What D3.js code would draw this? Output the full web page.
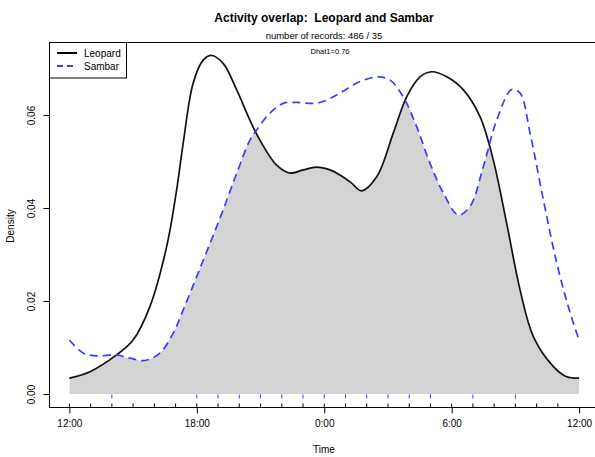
<!DOCTYPE html>
<html>
<head>
<meta charset="utf-8">
<script src="https://cdn.jsdelivr.net/npm/d3@7"></script>
<style>
  body { margin: 0; background: #fff; }
  text { font-family: "Liberation Sans", Arial, sans-serif; white-space: pre; }
</style>
</head>
<body>
<script>
// hours after 12:00 (noon), density values
var leopardHours = [0, 0.97, 2.22, 3.0, 3.79, 4.58, 5.05, 5.36, 5.83, 6.30, 6.70, 7.24, 7.88, 8.50, 8.97, 9.76, 10.39, 11.01, 11.64, 12.27, 12.74, 13.25, 13.76, 14.47, 15.25, 15.88, 16.51, 17.06, 17.77, 18.55, 19.34, 19.96, 20.59, 21.22, 21.85, 22.79, 23.42, 24];
var leopardDensity = [0.0034, 0.0048, 0.0084, 0.0116, 0.0188, 0.0317, 0.0439, 0.0540, 0.0669, 0.0718, 0.0728, 0.0711, 0.0654, 0.0589, 0.0546, 0.0492, 0.0475, 0.0482, 0.0488, 0.0482, 0.0471, 0.0455, 0.0437, 0.0467, 0.0561, 0.0639, 0.0682, 0.0693, 0.0682, 0.0654, 0.0596, 0.0503, 0.0367, 0.0224, 0.0123, 0.0059, 0.0037, 0.0034];

var sambarHours = [0, 0.65, 1.28, 2.22, 2.85, 3.56, 4.26, 4.89, 5.36, 5.99, 6.62, 7.24, 7.88, 8.50, 8.82, 9.44, 10.07, 10.70, 11.48, 11.95, 12.74, 13.68, 14.55, 15.10, 15.72, 16.35, 16.98, 17.61, 18.31, 18.86, 19.49, 20.12, 20.83, 21.22, 21.69, 22.32, 22.95, 23.58, 24];
var sambarDensity = [0.0116, 0.0088, 0.0082, 0.0084, 0.0077, 0.0072, 0.0088, 0.0131, 0.0181, 0.0252, 0.0324, 0.0396, 0.0475, 0.0546, 0.0568, 0.0604, 0.0625, 0.0627, 0.0625, 0.0629, 0.0647, 0.0672, 0.0682, 0.0675, 0.0639, 0.0575, 0.0496, 0.0432, 0.0385, 0.0403, 0.0489, 0.0589, 0.0655, 0.0647, 0.0561, 0.0417, 0.0281, 0.0174, 0.0116];

// rug: clock hours of records
var leopardRug = [12, 13, 14, 15, 16, 17, 18, 19, 20, 21, 22, 23, 0, 1, 2, 3, 4, 5, 6, 7, 8, 9, 10, 11];
var sambarRug = [14, 18, 19, 20, 21, 22, 23, 0, 1, 2, 3, 4, 5, 7, 9];

var xTicks = [0, 6, 12, 18, 24];
var xTickLabels = ["12:00", "18:00", "0:00", "6:00", "12:00"];
var yTicks = [0, 0.02, 0.04, 0.06];

var speciesNames = ["Leopard", "Sambar"];
var titleText = "Activity overlap:  Leopard and Sambar";
var subText = "number of records: 486 / 35";
var dhatText = "Dhat1=0.76";

var W = 595, H = 457;
var svg = d3.select("body").append("svg").attr("width", W).attr("height", H);

var x = d3.scaleLinear().domain([-0.96, 24.96]).range([49, 599.5]);
var y = d3.scaleLinear().domain([0, 0.06]).range([394, 115]);

var blue = "#3b3bff";

var leo = leopardHours.map(function(h, i) { return [h, leopardDensity[i]]; });
var sam = sambarHours.map(function(h, i) { return [h, sambarDensity[i]]; });

var area = d3.area().x(function(d) { return x(d[0]); }).y0(y(0)).y1(function(d) { return y(d[1]); })
  .curve(d3.curveCatmullRom);
var line = d3.line().x(function(d) { return x(d[0]); }).y(function(d) { return y(d[1]); })
  .curve(d3.curveCatmullRom);

// overlap = area under leopard clipped by area under sambar
svg.append("clipPath").attr("id", "samclip").append("path").attr("d", area(sam));
svg.append("path").attr("d", area(leo)).attr("fill", "#d3d3d3").attr("clip-path", "url(#samclip)");

svg.append("path").attr("d", line(leo)).attr("fill", "none").attr("stroke", "#111").attr("stroke-width", 1.7);
svg.append("path").attr("d", line(sam)).attr("fill", "none").attr("stroke", blue).attr("stroke-width", 1.7)
  .attr("stroke-dasharray", "8,5");

// rugs
function toNoon(h) { return (h - 12 + 24) % 24; }
svg.selectAll(".rugL").data(leopardRug).enter().append("line")
  .attr("x1", function(d) { return x(toNoon(d)); }).attr("x2", function(d) { return x(toNoon(d)); })
  .attr("y1", 403.5).attr("y2", 407.5).attr("stroke", "#000").attr("stroke-width", 1);
svg.selectAll(".rugS").data(sambarRug).enter().append("line")
  .attr("x1", function(d) { return x(toNoon(d)); }).attr("x2", function(d) { return x(toNoon(d)); })
  .attr("y1", 394.5).attr("y2", 398.5).attr("stroke", blue).attr("stroke-width", 1);

// box
svg.append("rect").attr("x", 49.5).attr("y", 42.5).attr("width", 560).attr("height", 365)
  .attr("fill", "none").attr("stroke", "#000").attr("stroke-width", 1);

// axes
var xAxis = svg.append("g").attr("transform", "translate(0,407.5)")
  .call(d3.axisBottom(x).tickValues(xTicks).tickSize(6).tickPadding(6)
    .tickFormat(function(d, i) { return xTickLabels[i]; }));
xAxis.select(".domain").remove();
xAxis.selectAll("text").style("font-size", "10px").attr("fill", "#000");

var yAxis = svg.append("g").attr("transform", "translate(49.5,0)")
  .call(d3.axisLeft(y).tickValues(yTicks).tickSize(6).tickFormat(d3.format(".2f")));
yAxis.select(".domain").remove();
yAxis.selectAll("text").style("font-size", "10px").attr("fill", "#000")
  .attr("transform", "rotate(-90)").attr("x", 0).attr("y", -15).attr("dy", 0)
  .style("text-anchor", "middle");

svg.append("text").attr("x", 324).attr("y", 453).attr("text-anchor", "middle")
  .style("font-size", "10px").text("Time");
svg.append("text").attr("transform", "translate(14,226) rotate(-90)").attr("text-anchor", "middle")
  .style("font-size", "10px").text("Density");

// titles
svg.append("text").attr("x", 324).attr("y", 22).attr("text-anchor", "middle")
  .style("font-size", "12px").style("font-weight", "bold").text(titleText);
svg.append("text").attr("x", 324).attr("y", 39).attr("text-anchor", "middle")
  .style("font-size", "9.5px").text(subText);
svg.append("text").attr("x", 330).attr("y", 54).attr("text-anchor", "middle")
  .style("font-size", "7.5px").text(dhatText);

// legend
var leg = svg.append("g");
leg.append("rect").attr("x", 49.5).attr("y", 42.5).attr("width", 77).attr("height", 35.5)
  .attr("fill", "#fff").attr("stroke", "#000");
var legStyles = [{ c: "#000", dash: null }, { c: blue, dash: "6,4" }];
speciesNames.forEach(function(n, i) {
  var ly = 53 + i * 13;
  leg.append("line").attr("x1", 57).attr("x2", 77).attr("y1", ly).attr("y2", ly)
    .attr("stroke", legStyles[i].c).attr("stroke-width", 2).attr("stroke-dasharray", legStyles[i].dash);
  leg.append("text").attr("x", 84).attr("y", ly + 3.5).style("font-size", "10px").text(n);
});
</script>
</body>
</html>
